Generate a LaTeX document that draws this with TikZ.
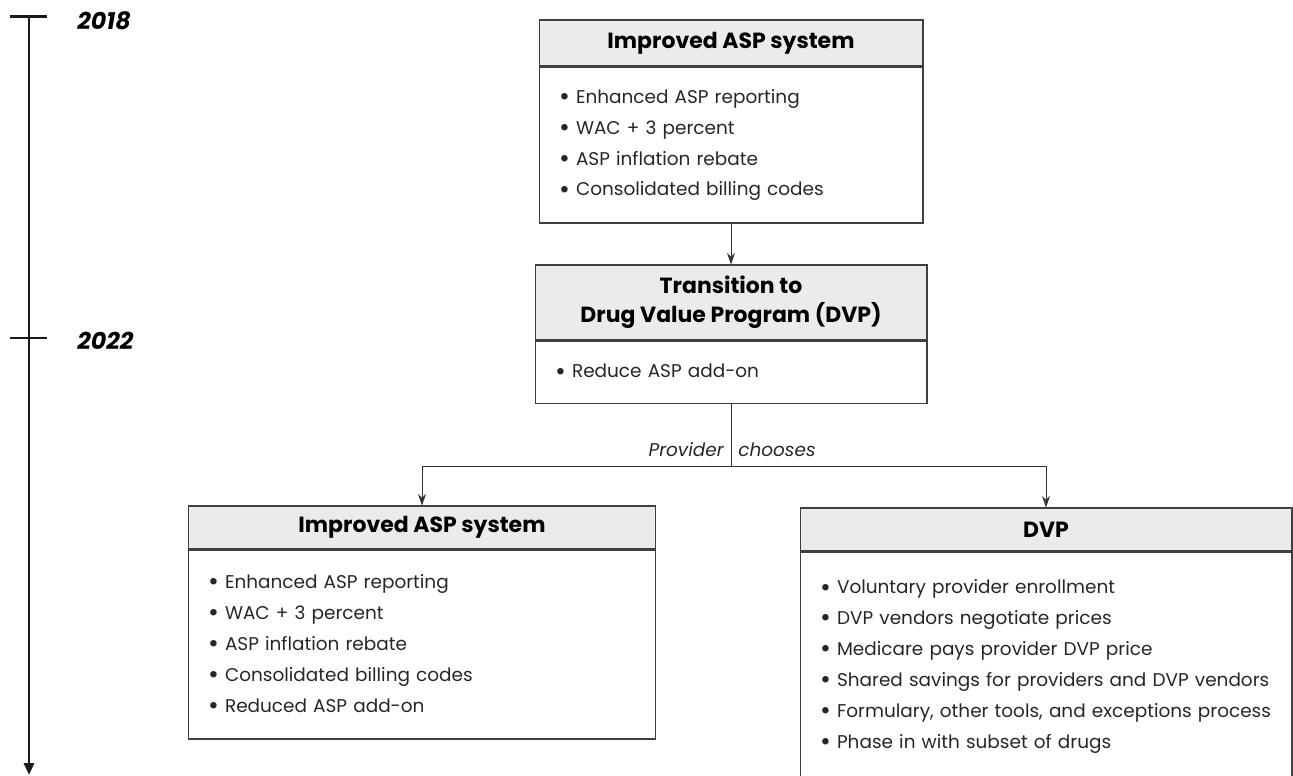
\documentclass[tikz,border=0pt]{standalone}
\usepackage{fontspec}
\setmainfont{Poppins}
\usepackage{tikz}
\usetikzlibrary{positioning,arrows.meta}
\newcommand{\blt}{\raisebox{-1.3pt}{\fontsize{15}{17.6}\selectfont\textbullet}\ }

\begin{document}
\begin{tikzpicture}[
    x=0.02cm, y=-0.02cm,
    headbox/.style={rectangle, draw=black!75, fill=black!8, line width=0.6pt, inner sep=0pt, align=center, font=\bfseries\fontsize{12.5}{16.4}\selectfont},
    bodybox/.style={rectangle, draw=black!75, line width=0.6pt, inner xsep=0.4cm, inner ysep=0pt, align=left, text=black!85, font=\fontsize{10.5}{17.6}\selectfont},
    yearlabel/.style={anchor=west, inner sep=0pt, font=\bfseries\itshape\fontsize{13.5}{16}\selectfont},
    choicelabel/.style={inner sep=0pt, text=black!85, font=\itshape\fontsize{10.5}{12}\selectfont},
    flow/.style={draw=black!80, line width=0.5pt, -{Stealth[length=6.5pt, width=4.5pt]}},
    timeline/.style={draw=black!90, line width=1.7pt}
]
\useasboundingbox (0,0) rectangle (1293,776);

\coordinate (tltop) at (29,17);
\coordinate (tlend) at (29,775);
\coordinate (tick2) at (29,338);
\draw[timeline, -{Triangle[length=0.24cm, width=0.2cm]}] (tltop) -- (tlend);
\draw[timeline] ([xshift=-0.38cm]tltop) -- ([xshift=0.36cm]tltop);
\draw[timeline] ([xshift=-0.38cm]tick2) -- ([xshift=0.36cm]tick2);
\node[yearlabel] (y2018) at (77,21) {2018};
\node[yearlabel] (y2022) at (77,341) {2022};

\node[headbox, minimum width=7.68cm, minimum height=0.92cm] (h1) at (731,43) {Improved ASP system};
\node[bodybox, minimum width=7.68cm, text width=6.88cm, minimum height=3.12cm, below=0pt of h1] (b1) {\blt Enhanced ASP reporting\\\blt WAC + 3 percent\\\blt ASP inflation rebate\\\blt Consolidated billing codes};

\node[headbox, minimum width=7.84cm, minimum height=1.5cm] (h2) at (731,302.5) {Transition to\\Drug Value Program (DVP)};
\node[bodybox, minimum width=7.84cm, text width=7.04cm, minimum height=1.24cm, below=0pt of h2] (b2) {\blt Reduce ASP add-on};

\node[headbox, minimum width=9.36cm, minimum height=0.86cm] (h3) at (422,527.5) {Improved ASP system};
\node[bodybox, minimum width=9.36cm, text width=8.56cm, minimum height=3.78cm, below=0pt of h3] (b3) {\blt Enhanced ASP reporting\\\blt WAC + 3 percent\\\blt ASP inflation rebate\\\blt Consolidated billing codes\\\blt Reduced ASP add-on};

\node[headbox, minimum width=9.84cm, minimum height=0.86cm] (h4) at (1046,529.5) {DVP};
\node[bodybox, minimum width=9.84cm, text width=9.04cm, minimum height=4.58cm, below=0pt of h4] (b4) {\blt Voluntary provider enrollment\\\blt DVP vendors negotiate prices\\\blt Medicare pays provider DVP price\\\blt Shared savings for providers and DVP vendors\\\blt Formulary, other tools, and exceptions process\\\blt Phase in with subset of drugs};

\draw[flow] (b1) -- (h2);
\coordinate (fork) at (b2.south |- 0,466);
\draw[draw=black!80, line width=0.5pt] (b2) -- (fork);
\draw[flow] (fork) -| (h3);
\draw[flow] (fork) -| (h4);
\node[choicelabel, anchor=east] (prov) at ([xshift=-0.14cm]b2.south |- 0,450) {Provider};
\node[choicelabel, anchor=west] (choose) at ([xshift=0.14cm]b2.south |- 0,450) {chooses};
\end{tikzpicture}
\end{document}
